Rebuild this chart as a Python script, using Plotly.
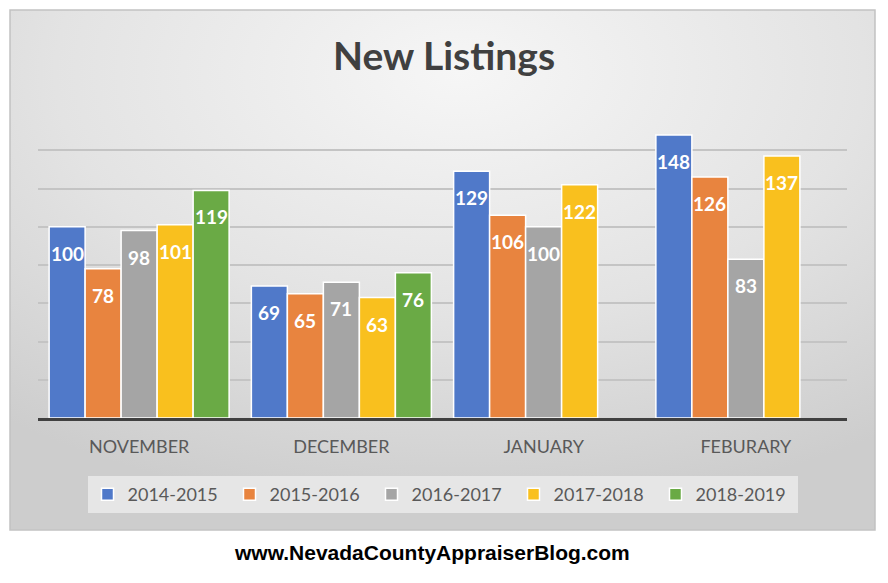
import base64
import plotly.graph_objects as go

months = ["NOVEMBER", "DECEMBER", "JANUARY", "FEBURARY"]
seasons = ["2014-2015", "2015-2016", "2016-2017", "2017-2018", "2018-2019"]
listings_2014 = [100, 69, 129, 148]
listings_2015 = [78, 65, 106, 126]
listings_2016 = [98, 71, 100, 83]
listings_2017 = [101, 63, 122, 137]
listings_2018 = [119, 76, None, None]
series = [listings_2014, listings_2015, listings_2016, listings_2017, listings_2018]
colors = ["#5079C9", "#E8843F", "#A5A5A5", "#F9C01E", "#6AAA45"]

FONT = "Lato"
BARGAP = 0.11

# soft radial grey backdrop like the Excel chart area
svg = """<svg xmlns='http://www.w3.org/2000/svg' width='865' height='520' preserveAspectRatio='none'>
<defs><radialGradient id='g' cx='52%' cy='12%' r='85%'>
<stop offset='0' stop-color='#f6f6f6'/><stop offset='0.55' stop-color='#e3e3e3'/>
<stop offset='1' stop-color='#cdcdcd'/></radialGradient></defs>
<rect width='865' height='520' fill='url(#g)'/></svg>"""
bg_src = "data:image/svg+xml;base64," + base64.b64encode(svg.encode()).decode()

fig = go.Figure()
labels = []
n = len(series)
slot = (1 - BARGAP) / n
for i, (name, vals, col) in enumerate(zip(seasons, series, colors)):
    fig.add_trace(go.Bar(
        x=months,
        y=vals,
        name=name,
        marker=dict(color=col, line=dict(color="white", width=1.5)),
        hoverinfo="skip",
    ))
    # value labels sit a little below the top of each bar, as in Excel
    off = (i - (n - 1) / 2) * slot
    for j, v in enumerate(vals):
        if v is None:
            continue
        labels.append(dict(
            x=j + off, y=v, xref="x", yref="y",
            text="<b>%d</b>" % v, showarrow=False,
            yanchor="top", yshift=-13,
            font=dict(family=FONT, size=19, color="white"),
        ))

labels.append(dict(
    text="<b>www.NevadaCountyAppraiserBlog.com</b>",
    xref="paper", yref="paper",
    x=0.487, y=-0.441,
    xanchor="center", yanchor="middle",
    showarrow=False,
    font=dict(family="Liberation Sans", size=21, color="black"),
))

fig.update_layout(
    width=888,
    height=583,
    margin=dict(l=38, r=41, t=112, b=165),
    paper_bgcolor="white",
    plot_bgcolor="rgba(0,0,0,0)",
    barmode="group",
    bargap=BARGAP,
    bargroupgap=0,
    title=dict(
        text="<b>New Listings</b>",
        x=0.5, xanchor="center",
        yref="container", y=0.903, yanchor="middle",
        font=dict(family=FONT, size=39, color="#404040"),
    ),
    font=dict(family=FONT, color="#595959"),
    showlegend=True,
    legend=dict(
        orientation="h",
        x=0.5, xanchor="center",
        y=-0.25, yanchor="middle",
        bgcolor="#e6e6e6",
        font=dict(family=FONT, size=18, color="#595959"),
        traceorder="normal",
        entrywidth=97,
    ),
    images=[dict(
        source=bg_src,
        xref="paper", yref="paper",
        x=-0.0346, y=1.3333,
        sizex=1.0692, sizey=1.699,
        sizing="stretch",
        xanchor="left", yanchor="top",
        layer="below",
    )],
    shapes=[dict(
        type="rect", xref="paper", yref="paper",
        x0=-0.0346, x1=1.0346, y0=-0.366, y1=1.3333,
        line=dict(color="#c2c2c2", width=1.5),
        layer="below",
    )],
    annotations=labels,
)

fig.update_xaxes(
    showline=True, linecolor="#404040", linewidth=3,
    ticks="", showgrid=False, ticklabelstandoff=10,
    tickfont=dict(family=FONT, size=18, color="#595959"),
)
fig.update_yaxes(
    range=[0, 160], dtick=20,
    showgrid=True, gridcolor="#c4c4c4", gridwidth=1.5,
    showticklabels=False, zeroline=False, ticks="",
)

fig.write_html("out.html", config={"displayModeBar": False},
               post_script="document.body.style.margin='0';")
